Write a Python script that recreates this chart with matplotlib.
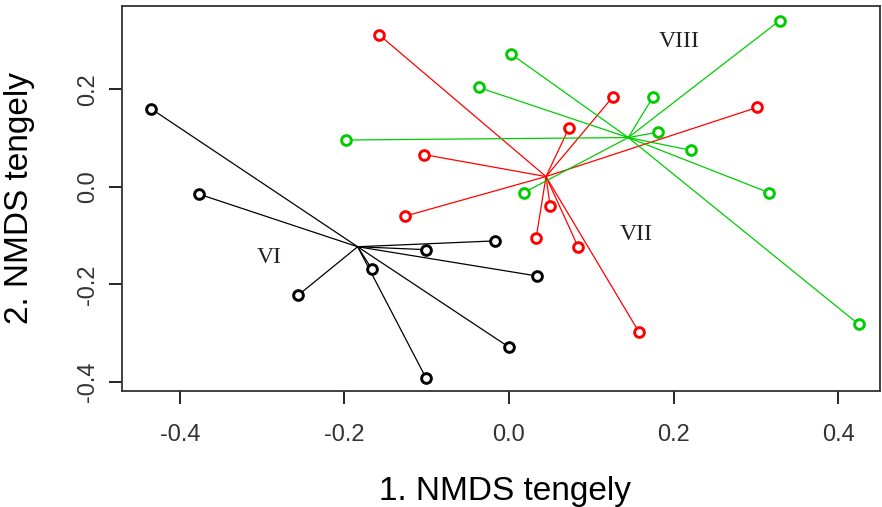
import matplotlib.pyplot as plt
import numpy as np

# NMDS site scores per group
vi_x = [-0.435, -0.377, -0.256, -0.167, -0.101, -0.017, 0.034, 0.000, -0.101]
vi_y = [0.160, -0.015, -0.222, -0.168, -0.129, -0.111, -0.183, -0.329, -0.392]

vii_x = [-0.158, -0.103, -0.126, 0.126, 0.073, 0.302, 0.050, 0.033, 0.084, 0.158]
vii_y = [0.312, 0.066, -0.060, 0.184, 0.121, 0.163, -0.039, -0.105, -0.123, -0.298]

viii_x = [-0.198, 0.002, -0.037, 0.018, 0.329, 0.175, 0.181, 0.221, 0.316, 0.425]
viii_y = [0.096, 0.273, 0.204, -0.012, 0.341, 0.184, 0.112, 0.075, -0.012, -0.282]

# spider centres
centres = {'VI': (-0.184, -0.123), 'VII': (0.045, 0.021), 'VIII': (0.145, 0.101)}

# group label positions
labels = ['VI', 'VII', 'VIII']
label_x = [-0.291, 0.155, 0.207]
label_y = [-0.146, -0.098, 0.298]

groups = [('VI', vi_x, vi_y, 'black'),
          ('VII', vii_x, vii_y, '#ff0000'),
          ('VIII', viii_x, viii_y, '#00cd00')]

plt.rcParams['font.family'] = ['Liberation Sans', 'DejaVu Sans']

fig = plt.figure(figsize=(8.82, 5.07), dpi=100)
ax = fig.add_axes([0.1383, 0.2288, 0.8594, 0.7594])

for name, xs, ys, col in groups:
    cx, cy = centres[name]
    for x, y in zip(xs, ys):
        ax.plot([cx, x], [cy, y], color=col, lw=0.9, zorder=2)
    ax.plot(xs, ys, 'o', ms=7, mfc='white', mec=col, mew=2.1, ls='none', zorder=3)

for lab, lx, ly in zip(labels, label_x, label_y):
    ax.text(lx, ly, lab, family=['Liberation Serif', 'DejaVu Serif'], fontsize=17,
            ha='center', va='center', color='#222222')

ax.set_xlim(-0.4705, 0.451)
ax.set_ylim(-0.419, 0.371)
ax.set_xticks([-0.4, -0.2, 0.0, 0.2, 0.4])
ax.set_yticks([-0.4, -0.2, 0.0, 0.2])
ax.set_xticklabels(['-0.4', '-0.2', '0.0', '0.2', '0.4'], fontsize=17, color='#333333')
ax.set_yticklabels(['-0.4', '-0.2', '0.0', '0.2'], fontsize=17, color='#333333',
                   rotation=90, va='center')
ax.tick_params(direction='out', length=9.5, width=1.2)
ax.tick_params(axis='x', pad=14)
ax.tick_params(axis='y', pad=7)
for s in ax.spines.values():
    s.set_linewidth(1.3)
    s.set_color('#333333')

fig.text(505 / 882, 1 - 500 / 507, '1. NMDS tengely', fontsize=24,
         ha='center', va='baseline')
fig.text(28 / 882, 1 - 198 / 507, '2. NMDS tengely', fontsize=24, rotation=90,
         rotation_mode='anchor', ha='center', va='baseline')

fig.savefig('out.png', dpi=100)
